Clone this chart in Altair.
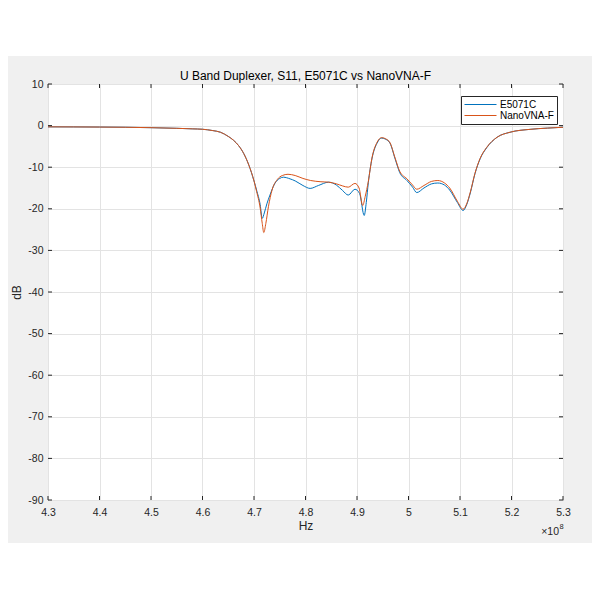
import altair as alt
import pandas as pd

title_text = "U Band Duplexer, S11, E5071C vs NanoVNA-F"
series_names = ["E5071C", "NanoVNA-F"]
series_colors = ["#0072BD", "#D95319"]
x_ticks = [4.3, 4.4, 4.5, 4.6, 4.7, 4.8, 4.9, 5.0, 5.1, 5.2, 5.3]
y_ticks = [10, 0, -10, -20, -30, -40, -50, -60, -70, -80, -90]
x_title = "Hz"
y_title = "dB"
x_exponent_base = "×10"
x_exponent = "8"

# frequency in units of 1e8 Hz
freq_e5071c = [4.30, 4.35, 4.40, 4.45, 4.50, 4.55, 4.58, 4.60, 4.62, 4.635, 4.65, 4.66, 4.67,
               4.68, 4.69, 4.70, 4.705, 4.712, 4.716, 4.72, 4.725, 4.731, 4.74, 4.75, 4.757,
               4.77, 4.78, 4.795, 4.809, 4.825, 4.845, 4.86, 4.872, 4.883, 4.896, 4.905, 4.914,
               4.918, 4.922, 4.929, 4.939, 4.948, 4.956, 4.964, 4.974, 4.983, 4.997, 5.008,
               5.016, 5.03, 5.045, 5.057, 5.07, 5.08, 5.095, 5.106, 5.113, 5.12, 5.129, 5.139,
               5.152, 5.172, 5.197, 5.236, 5.27, 5.30]
db_e5071c = [-0.3, -0.32, -0.35, -0.4, -0.5, -0.65, -0.78, -0.88, -1.2, -1.6, -2.6, -3.5, -4.8,
             -6.7, -9.5, -13.3, -15.5, -19.0, -22.3, -21.0, -18.8, -16.7, -14.0, -12.7, -12.4,
             -12.8, -13.3, -14.4, -15.1, -14.4, -13.6, -14.3, -15.6, -16.7, -15.3, -16.3, -21.6,
             -18.5, -13.7, -8.0, -4.2, -3.0, -3.3, -4.2, -8.0, -11.3, -13.2, -14.8,
             -16.1, -15.0, -14.0, -13.8, -14.3, -15.5, -18.5, -20.4, -19.0, -16.2, -11.6, -8.0,
             -5.3, -2.8, -1.6, -0.9, -0.6, -0.4]

freq_nanovna = [4.30, 4.35, 4.40, 4.45, 4.50, 4.55, 4.58, 4.60, 4.62, 4.635, 4.65, 4.66, 4.67,
                4.68, 4.69, 4.70, 4.705, 4.712, 4.716, 4.719, 4.723, 4.728, 4.735, 4.745, 4.755,
                4.766, 4.78, 4.795, 4.81, 4.83, 4.845, 4.86, 4.872, 4.883, 4.896, 4.904, 4.911,
                4.916, 4.922, 4.929, 4.939, 4.948, 4.956, 4.964, 4.974, 4.983, 4.997, 5.008,
                5.016, 5.03, 5.045, 5.057, 5.07, 5.08, 5.095, 5.106, 5.113, 5.12, 5.129, 5.139,
                5.152, 5.172, 5.197, 5.236, 5.27, 5.30]
db_nanovna = [-0.3, -0.32, -0.35, -0.4, -0.5, -0.65, -0.78, -0.88, -1.2, -1.6, -2.6, -3.5, -4.8,
              -6.7, -9.5, -13.3, -15.8, -19.8, -23.5, -25.7, -23.5, -19.5, -15.5, -13.0, -12.0,
              -11.7, -12.0, -12.7, -13.2, -13.5, -13.6, -14.0, -14.5, -14.8, -13.9, -15.0, -19.2,
              -17.0, -13.4, -7.8, -4.0, -2.9, -3.2, -4.1, -7.8, -11.0, -12.8, -14.3,
              -15.3, -14.4, -13.4, -13.2, -13.8, -15.0, -18.2, -20.1, -18.8, -16.0, -11.5, -7.9,
              -5.2, -2.8, -1.6, -0.9, -0.6, -0.4]

W, H = 515, 416
PAD = {"left": 40, "top": 76, "right": 29, "bottom": 86}
FONT = "Liberation Sans"
AX = "#262626"
BOX = "#404040"

df = pd.concat([
    pd.DataFrame({"f": freq_e5071c, "db": db_e5071c, "series": series_names[0]}),
    pd.DataFrame({"f": freq_nanovna, "db": db_nanovna, "series": series_names[1]}),
], ignore_index=True)

xs = alt.Scale(domain=[4.3, 5.3], nice=False, zero=False)
ys = alt.Scale(domain=[-90, 10], nice=False, zero=False)

x_axis = alt.Axis(
    values=x_ticks, labelExpr="format(datum.value, '.1~f')", title=x_title,
    grid=True, gridColor="#e3e3e3", ticks=False, domain=False,
    labelPadding=7, titlePadding=3, labelFont=FONT, labelFontSize=10.5, labelColor=AX,
    titleFont=FONT, titleFontSize=12, titleFontWeight="normal", titleColor=AX,
    labelFlush=False)
y_axis = alt.Axis(
    values=y_ticks, labelExpr="datum.value + ''", title=y_title,
    grid=True, gridColor="#e3e3e3", ticks=False, domain=False,
    labelPadding=5, titlePadding=4, labelFont=FONT, labelFontSize=10.5, labelColor=AX,
    titleFont=FONT, titleFontSize=12, titleFontWeight="normal", titleColor=AX,
    labelFlush=False)

X = alt.X("f:Q", scale=xs, axis=x_axis, title=x_title)
Y = alt.Y("db:Q", scale=ys, axis=y_axis, title=y_title)

lines = alt.Chart(df).mark_line(strokeWidth=1, interpolate="monotone", clip=True).encode(
    x=X, y=Y,
    color=alt.Color("series:N", scale=alt.Scale(domain=series_names, range=series_colors),
                    legend=alt.Legend(
                        title=None, orient="none", legendX=413, legendY=12,
                        direction="vertical", symbolType="stroke", symbolSize=1024,
                        symbolStrokeWidth=1, clipHeight=11, labelFontSize=10, labelFont=FONT,
                        labelColor="#000", strokeColor=AX, fillColor="white", padding=3,
                        labelOffset=3, rowPadding=0)),
)

xt = pd.DataFrame({"f": x_ticks})
yt = pd.DataFrame({"db": y_ticks})
bottom_ticks = alt.Chart(xt).mark_rule(color=AX, strokeWidth=1).encode(
    x=X, y=alt.value(H - 4), y2=alt.value(H))
top_ticks = alt.Chart(xt).mark_rule(color=AX, strokeWidth=1).encode(
    x=X, y=alt.value(0), y2=alt.value(4))
left_ticks = alt.Chart(yt).mark_rule(color=AX, strokeWidth=1).encode(
    y=Y, x=alt.value(0), x2=alt.value(4))
right_ticks = alt.Chart(yt).mark_rule(color=AX, strokeWidth=1).encode(
    y=Y, x=alt.value(W - 4), x2=alt.value(W))

one = pd.DataFrame({"k": [0]})
top_white = alt.Chart(one).mark_rect(color="white").encode(
    x=alt.value(-PAD["left"]), x2=alt.value(W + PAD["right"]),
    y=alt.value(-PAD["top"]), y2=alt.value(-28))
bottom_white = alt.Chart(one).mark_rect(color="white").encode(
    x=alt.value(-PAD["left"]), x2=alt.value(W + PAD["right"]),
    y=alt.value(459), y2=alt.value(H + PAD["bottom"]))

title_mark = alt.Chart(pd.DataFrame({"t": [title_text]})).mark_text(
    align="center", baseline="middle", fontSize=12, font=FONT, color="#000").encode(
    x=alt.value(W / 2), y=alt.value(-8.5), text="t:N")

exp_base = alt.Chart(pd.DataFrame({"t": [x_exponent_base]})).mark_text(
    align="right", baseline="middle", fontSize=10.5, font=FONT, color=AX).encode(
    x=alt.value(511), y=alt.value(448), text="t:N")
exp_pow = alt.Chart(pd.DataFrame({"t": [x_exponent]})).mark_text(
    align="left", baseline="middle", fontSize=7.5, font=FONT, color=AX).encode(
    x=alt.value(511.5), y=alt.value(443), text="t:N")

chart = alt.layer(
    lines, bottom_ticks, top_ticks, left_ticks, right_ticks,
    top_white, bottom_white, title_mark, exp_base, exp_pow
).properties(
    width=W, height=H, padding=PAD,
    autosize=alt.AutoSizeParams(type="none"),
    background="#f0f0f0",
).configure_view(fill="white", stroke=BOX, strokeWidth=1)

chart.save("out.html", embed_options={"renderer": "svg", "actions": False})
